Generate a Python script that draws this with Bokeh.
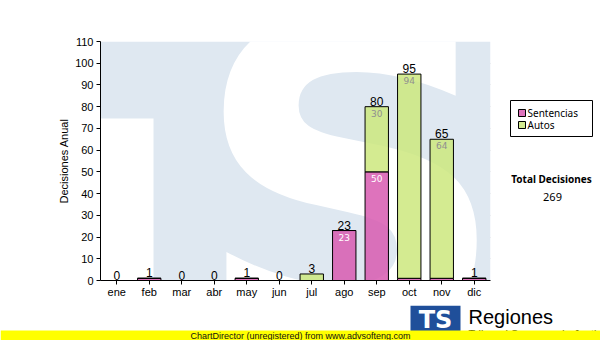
from bokeh.plotting import figure
from bokeh.layouts import row, column
from bokeh.models import ColumnDataSource, FixedTicker
from bokeh.core.properties import value
from bokeh.embed import file_html
from bokeh.resources import INLINE

months = ["ene", "feb", "mar", "abr", "may", "jun", "jul", "ago", "sep", "oct", "nov", "dic"]
sentencias = [0, 1, 0, 0, 1, 0, 0, 23, 50, 1, 1, 1]
autos = [0, 0, 0, 0, 0, 0, 3, 0, 30, 94, 64, 0]
series_names = ["Sentencias", "Autos"]
y_ticks = list(range(0, 111, 10))
y_title = "Decisiones Anual"
total_title = "Total Decisiones"
footer_text = "ChartDirector (unregistered) from www.advsofteng.com"
brand_text = "Regiones"
brand_sub = "Tribunal Supremo de Justicia"

totals = [s + a for s, a in zip(sentencias, autos)]
grand_total = sum(totals)

PINK = "#d85bb0"
GREEN = "#cce77e"
WM_BLUE = "#dfe8f1"
FONT_A = "Liberation Sans"
FONT_V = "DejaVu Sans"
FONT_T = "Noto Sans"

# ---------------- main chart ----------------
MW, MH = 495, 305
L, R, T, B = 100, 5, 41, 25
PW = MW - L - R   # 390
PH = MH - T - B   # 239

p = figure(x_range=months, y_range=(0, 110), width=MW, height=MH,
           output_backend="svg", toolbar_location=None,
           min_border_left=L, min_border_right=R, min_border_top=T, min_border_bottom=B,
           background_fill_color="white", border_fill_color="white",
           outline_line_color=None)

def dx(px):
    return (px - L) * len(months) / PW

def dy(py):
    return (T + PH - py) * 110 / PH

# watermark (light logo behind the plot)
p.quad(left=[0], right=[len(months)], bottom=[0], top=[110], fill_color=WM_BLUE, line_color=None)
p.quad(left=[0], right=[dx(153)], bottom=[0], top=[dy(118)], fill_color="white", line_color=None)
p.text(x=[dx(350)], y=[dy(186)], text=["S"], text_font=value(FONT_V), text_font_style="bold",
       text_font_size="440px", text_align="center", text_baseline="middle", text_color="white")

# bars
src = ColumnDataSource(dict(months=months, Sentencias=sentencias, Autos=autos, totals=totals,
                            tlabels=[str(t) for t in totals]))
rs = p.vbar_stack(series_names, x="months", width=0.72, source=src,
                  fill_color=[PINK, GREEN], fill_alpha=0.85, line_color="black", line_width=1)

p.text(x="months", y="totals", text="tlabels", source=src, text_align="center",
       text_baseline="bottom", y_offset=-1, text_font=value(FONT_A),
       text_font_size="12px", text_color="black")

sx, sy, st = [], [], []
for m, s_ in zip(months, sentencias):
    if s_ >= 5:
        sx.append(m); sy.append(s_); st.append(str(s_))
p.text(x=sx, y=sy, text=st, text_align="center", text_baseline="top", y_offset=3,
       text_font=value(FONT_V), text_font_size="9px", text_color="white")
ax, ay, at = [], [], []
for m, a, t in zip(months, autos, totals):
    if a >= 5:
        ax.append(m); ay.append(t); at.append(str(a))
p.text(x=ax, y=ay, text=at, text_align="center", text_baseline="top", y_offset=3,
       text_font=value(FONT_V), text_font_size="9px", text_color="#8f8f8f")

p.xgrid.grid_line_color = None
p.ygrid.grid_line_color = "#c0c0c0"
p.ygrid.ticker = FixedTicker(ticks=y_ticks)
p.yaxis.ticker = FixedTicker(ticks=y_ticks)
for a_ in (p.xaxis[0], p.yaxis[0]):
    a_.axis_line_color = "black"
    a_.major_tick_line_color = "black"
    a_.major_tick_out = 4
    a_.major_tick_in = 0
    a_.minor_tick_line_color = None
    a_.major_label_text_font = FONT_A
    a_.major_label_text_font_size = "11px"
    a_.major_label_text_color = "black"
    a_.major_label_standoff = 3
p.yaxis.axis_label = y_title
p.yaxis.axis_label_text_font = FONT_A
p.yaxis.axis_label_text_font_size = "11px"
p.yaxis.axis_label_text_font_style = "normal"
p.yaxis.axis_label_text_color = "black"
p.yaxis.axis_label_standoff = 2
p.xaxis.major_label_standoff = 1

# ---------------- side panel (legend + total) ----------------
# frame spans the same rows as the main chart's frame (T .. T+PH); data y == page pixel y
SW = 600 - MW
s = figure(x_range=(MW, 600), y_range=(T + PH, T), width=SW, height=MH,
           output_backend="svg", toolbar_location=None,
           min_border_left=0, min_border_right=0, min_border_top=T, min_border_bottom=B,
           x_axis_location=None, y_axis_location=None, outline_line_color=None,
           background_fill_color="white", border_fill_color="white")
s.grid.visible = False
s.quad(left=[510], right=[592], top=[100], bottom=[136], fill_color="white", line_color="black")
s.rect(x=[521.5, 521.5], y=[112.5, 124.5], width=7, height=7,
       fill_color=[PINK, GREEN], fill_alpha=0.85, line_color="black", line_width=1)
s.text(x=[527, 527], y=[112.5, 124.5], text=series_names, text_font=value(FONT_T),
       text_font_size="10px", text_baseline="middle", text_align="left", text_color="black")
s.text(x=[551], y=[178], text=[total_title], text_font=value(FONT_T), text_font_style="bold",
       text_font_size="10px", text_baseline="middle", text_align="center", text_color="black")
s.text(x=[552], y=[196], text=[str(grand_total)], text_font=value(FONT_T),
       text_font_size="11px", text_baseline="middle", text_align="center", text_color="black")

# ---------------- bottom band ----------------
BH = 340 - MH
b = figure(x_range=(0, 600), y_range=(340, MH), width=600, height=BH,
           output_backend="svg", toolbar_location=None, min_border=0,
           x_axis_location=None, y_axis_location=None, outline_line_color=None,
           background_fill_color="white", border_fill_color="white")
b.grid.visible = False
b.quad(left=[410], right=[460], top=[305], bottom=[334], fill_color="#1f4f9a", line_color=None)
b.text(x=[435], y=[319], text=["TS"], text_font=value(FONT_V), text_font_style="bold",
       text_font_size="24px", text_baseline="middle", text_align="center", text_color="white")
b.text(x=[468], y=[316], text=[brand_text], text_font=value(FONT_A),
       text_font_size="20px", text_baseline="middle", text_align="left", text_color="black")
b.text(x=[468], y=[327], text=[brand_sub], text_font=value(FONT_A),
       text_font_size="11px", text_baseline="top", text_align="left", text_color="black")
b.quad(left=[0], right=[600], top=[330], bottom=[340], fill_color="#ffff00", line_color=None)
b.text(x=[300], y=[335.5], text=[footer_text], text_font=value(FONT_A),
       text_font_size="9px", text_baseline="middle", text_align="center", text_color="#111111")

layout = column(row(p, s), b)
open("out.html", "w").write(file_html(layout, INLINE))
